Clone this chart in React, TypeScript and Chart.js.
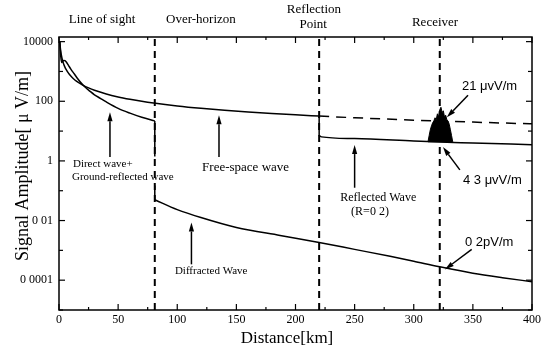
import React, { useEffect, useRef } from "react";
import { Chart, registerables } from "chart.js";

Chart.register(...registerables);

// ---- Data (distance in km, amplitude in μV/m) ----
const FREE_SPACE_KM = [0.7, 1, 1.5, 2, 3, 4, 5, 6, 8, 10, 12, 15, 18, 20, 25, 30, 40, 50, 60, 70, 80, 100, 120, 140, 160, 180, 200, 220];
const FREE_SPACE_UV = [10000, 7000, 4700, 3500, 2330, 1750, 1400, 1170, 875, 700, 583, 467, 389, 350, 280, 233, 175, 140, 117, 100, 87.5, 70, 58.3, 50, 43.8, 38.9, 35, 31.8];

const FREE_SPACE_DASH_KM = [220, 250, 300, 322, 350, 400];
const FREE_SPACE_DASH_UV = [31.8, 28, 23.3, 21.7, 20, 17.5];

const TWO_RAY_KM = [0.7, 1, 1.5, 2.2, 3, 4, 5, 6, 8, 10, 13, 16, 19, 22, 26, 30, 35, 40, 50, 60, 70, 81, 81];
const TWO_RAY_UV = [10000, 6000, 3200, 2000, 2150, 2350, 2300, 2100, 1600, 1200, 820, 560, 400, 300, 220, 165, 125, 95, 58, 40, 29, 22, 1.4];

const DIFFRACTED_KM = [81, 81, 100, 120, 150, 187, 220, 250, 280, 300, 322, 350, 375, 400];
const DIFFRACTED_UV = [0.15, 0.05, 0.0233, 0.0126, 0.00585, 0.00316, 0.00185, 0.00108, 0.00063, 0.00043, 0.00028, 0.000171, 0.000121, 0.000089];

const REFLECTED_KM = [220, 220, 222, 250, 300, 322, 350, 400];
const REFLECTED_UV = [31.8, 7.0, 6.4, 5.6, 4.65, 4.3, 4.0, 3.5];

const INTERFERENCE_KM = [312, 313, 314, 315, 316, 317, 318, 319, 320, 321, 322, 323, 324, 325, 326, 327, 328, 329, 330, 331, 332, 333];
const INTERFERENCE_UV = [4.3, 7, 11, 15, 19, 22, 28, 24, 38, 30, 52, 63, 42, 48, 30, 34, 24, 22, 17, 11, 7, 4.3];

const BOUNDARY_KM = [81, 220, 322]; // horizon, reflection point, receiver

const X_MIN = 0;
const X_MAX = 400;
const Y_MIN = 1e-5;
const Y_MAX = 14300;
const Y_LABEL_VALUES = [10000, 100, 1, 0.01, 0.0001];
const Y_LABELS = ["10000", "100", "1", "0 01", "0 0001"];

const SERIF = '"Liberation Serif", "Times New Roman", serif';
const SANS = '"Liberation Sans", Arial, sans-serif';

type Pt = { x: number; y: number };
const toPts = (xs: number[], ys: number[]): Pt[] => xs.map((x, i) => ({ x, y: ys[i] }));

// split a polyline into runs: vertical jumps (equal x) become their own straight pieces
const splitRuns = (pts: Pt[]): { pts: Pt[]; vertical: boolean }[] => {
  const runs: { pts: Pt[]; vertical: boolean }[] = [];
  let cur: Pt[] = [pts[0]];
  for (let i = 1; i < pts.length; i++) {
    const p = pts[i];
    const prev = pts[i - 1];
    if (p.x === prev.x) {
      if (cur.length > 1) runs.push({ pts: cur, vertical: false });
      runs.push({ pts: [prev, p], vertical: true });
      cur = [p];
    } else {
      cur.push(p);
    }
  }
  if (cur.length > 1) runs.push({ pts: cur, vertical: false });
  return runs;
};

// annotation texts placed in data coordinates
const NOTES = [
  { text: "Direct wave+", x: 11.8, y: 0.79, align: "left", font: `11px ${SERIF}` },
  { text: "Ground-reflected wave", x: 11, y: 0.29, align: "left", font: `11px ${SERIF}` },
  { text: "Free-space wave", x: 121, y: 0.58, align: "left", font: `13px ${SERIF}` },
  { text: "Diffracted Wave", x: 98, y: 0.0002, align: "left", font: `11px ${SERIF}` },
  { text: "Reflected Wave", x: 270, y: 0.058, align: "center", font: `12px ${SERIF}` },
  { text: "(R=0 2)", x: 263, y: 0.02, align: "center", font: `12px ${SERIF}` },
  { text: "21 μvV/m", x: 340.8, y: 316, align: "left", font: `13px ${SANS}` },
  { text: "4 3 μvV/m", x: 341.6, y: 0.215, align: "left", font: `13px ${SANS}` },
  { text: "0 2pV/m", x: 343.3, y: 0.00185, align: "left", font: `13px ${SANS}` },
];

// arrows: tail -> head in data coordinates
const ARROWS = [
  { x1: 43.1, y1: 1.36, x2: 43.1, y2: 43 },
  { x1: 135.3, y1: 1.36, x2: 135.3, y2: 34 },
  { x1: 112, y1: 0.00034, x2: 112, y2: 0.0086 },
  { x1: 250, y1: 0.126, x2: 250, y2: 3.4 },
  { x1: 345.9, y1: 158, x2: 328, y2: 29 },
  { x1: 339, y1: 0.5, x2: 324.7, y2: 2.9 },
  { x1: 349, y1: 0.00108, x2: 326.4, y2: 0.00023 },
];

// region headings above the plot (x in km, offset in px above plot top)
const HEADINGS = [
  { text: "Line of sight", x: 36.4, dy: 17 },
  { text: "Over-horizon", x: 120, dy: 17 },
  { text: "Reflection", x: 215.6, dy: 27 },
  { text: "Point", x: 215, dy: 12 },
  { text: "Receiver", x: 318, dy: 14 },
];

const decorPlugin = {
  id: "decor",
  afterDraw(chart: any) {
    const { ctx, chartArea, scales } = chart;
    const { left, right, top, bottom } = chartArea;
    const xs = scales.x;
    const ys = scales.y;
    const seg = (a: number, b: number, c: number, d: number) => {
      ctx.beginPath();
      ctx.moveTo(a, b);
      ctx.lineTo(c, d);
      ctx.stroke();
    };
    ctx.save();
    ctx.strokeStyle = "#000";
    ctx.fillStyle = "#000";
    ctx.setLineDash([]);
    // frame
    ctx.lineWidth = 1.5;
    ctx.strokeRect(left, top, right - left, bottom - top);
    // x ticks (inward, top and bottom)
    ctx.lineWidth = 1.2;
    for (let v = X_MIN; v <= X_MAX; v += 25) {
      const px = xs.getPixelForValue(v);
      const len = v % 50 === 0 ? 6 : 3;
      seg(px, bottom, px, bottom - len);
      seg(px, top, px, top + len);
    }
    // y ticks (inward, left and right)
    for (let d = -5; d <= 4; d++) {
      const py = ys.getPixelForValue(Math.pow(10, d));
      const len = d % 2 === 0 ? 6 : 4;
      seg(left, py, left + len, py);
      seg(right, py, right - len, py);
    }
    // notes
    ctx.textBaseline = "middle";
    for (const n of NOTES) {
      ctx.font = n.font;
      ctx.textAlign = n.align as CanvasTextAlign;
      ctx.fillText(n.text, xs.getPixelForValue(n.x), ys.getPixelForValue(n.y));
    }
    // headings
    ctx.font = `13px ${SERIF}`;
    ctx.textAlign = "center";
    for (const h of HEADINGS) {
      ctx.fillText(h.text, xs.getPixelForValue(h.x), top - h.dy);
    }
    // arrows
    ctx.lineWidth = 1.5;
    for (const a of ARROWS) {
      const x1 = xs.getPixelForValue(a.x1);
      const y1 = ys.getPixelForValue(a.y1);
      const x2 = xs.getPixelForValue(a.x2);
      const y2 = ys.getPixelForValue(a.y2);
      const ang = Math.atan2(y2 - y1, x2 - x1);
      const hl = 9;
      const hw = 2.6;
      const bx = x2 - hl * Math.cos(ang);
      const by = y2 - hl * Math.sin(ang);
      seg(x1, y1, bx, by);
      ctx.beginPath();
      ctx.moveTo(x2, y2);
      ctx.lineTo(bx + hw * Math.sin(ang), by - hw * Math.cos(ang));
      ctx.lineTo(bx - hw * Math.sin(ang), by + hw * Math.cos(ang));
      ctx.closePath();
      ctx.fill();
    }
    // axis titles
    ctx.font = `17px ${SERIF}`;
    ctx.textAlign = "center";
    ctx.fillText("Distance[km]", 287, 339);
    ctx.save();
    ctx.font = `18px ${SERIF}`;
    ctx.translate(23, 166);
    ctx.rotate(-Math.PI / 2);
    ctx.fillText("Signal Amplitude[ μ V/m]", 0, 0);
    ctx.restore();
    ctx.restore();
  },
};

export default function App() {
  const ref = useRef<HTMLCanvasElement>(null);
  useEffect(() => {
    const canvas = ref.current;
    if (!canvas) return;
    const line = (data: Pt[], extra: any = {}) => ({
      data,
      borderColor: "#000",
      backgroundColor: "#000",
      borderWidth: 1.5,
      pointRadius: 0,
      showLine: true,
      fill: false,
      tension: 0,
      ...extra,
    });
    const curve = (xs: number[], ys: number[], extra: any = {}) =>
      splitRuns(toPts(xs, ys)).map((r) =>
        line(r.pts, r.vertical ? extra : { cubicInterpolationMode: "monotone", ...extra })
      );
    const datasets: any[] = [
      ...curve(FREE_SPACE_KM, FREE_SPACE_UV),
      ...curve(FREE_SPACE_DASH_KM, FREE_SPACE_DASH_UV, { borderDash: [10, 7] }),
      ...curve(TWO_RAY_KM, TWO_RAY_UV),
      ...curve(DIFFRACTED_KM, DIFFRACTED_UV),
      ...curve(REFLECTED_KM, REFLECTED_UV),
      line(toPts(INTERFERENCE_KM, INTERFERENCE_UV), { fill: { value: 4.2 }, borderWidth: 1 }),
      ...BOUNDARY_KM.map((k) =>
        line([{ x: k, y: Y_MIN }, { x: k, y: Y_MAX }], { borderDash: [7, 5], borderWidth: 2 })
      ),
    ];
    const labelFor = (v: number) => {
      const i = Y_LABEL_VALUES.findIndex((lv) => Math.abs(Math.log10(lv) - Math.log10(v)) < 1e-6);
      return i >= 0 ? Y_LABELS[i] : "";
    };
    const chart = new Chart(canvas, {
      type: "scatter",
      data: { datasets },
      options: {
        responsive: false,
        animation: false,
        devicePixelRatio: 1,
        layout: { padding: { left: 0, right: 19, top: 37, bottom: 0 } },
        plugins: { legend: { display: false }, tooltip: { enabled: false }, title: { display: false } },
        scales: {
          x: {
            type: "linear",
            min: X_MIN,
            max: X_MAX,
            grid: { display: false, drawTicks: false },
            border: { display: false },
            ticks: {
              stepSize: 50,
              color: "#000",
              font: { family: SERIF, size: 12 },
              padding: 3,
              maxRotation: 0,
              autoSkip: false,
            },
            afterFit: (s: any) => {
              s.height = 42;
            },
          },
          y: {
            type: "logarithmic",
            min: Y_MIN,
            max: Y_MAX,
            grid: { display: false, drawTicks: false },
            border: { display: false },
            afterBuildTicks: (s: any) => {
              s.ticks = Y_LABEL_VALUES.map((v) => ({ value: v }));
            },
            ticks: {
              color: "#000",
              font: { family: SERIF, size: 12 },
              padding: 6,
              autoSkip: false,
              callback: (v: any) => labelFor(Number(v)),
            },
            afterFit: (s: any) => {
              s.width = 59;
            },
          },
        },
      } as any,
      plugins: [decorPlugin],
    });
    return () => chart.destroy();
  }, []);
  return (
    <div style={{ position: "fixed", left: 0, top: 0, width: 551, height: 352, background: "#fff" }}>
      <canvas ref={ref} width={551} height={352} style={{ display: "block" }} />
    </div>
  );
}
